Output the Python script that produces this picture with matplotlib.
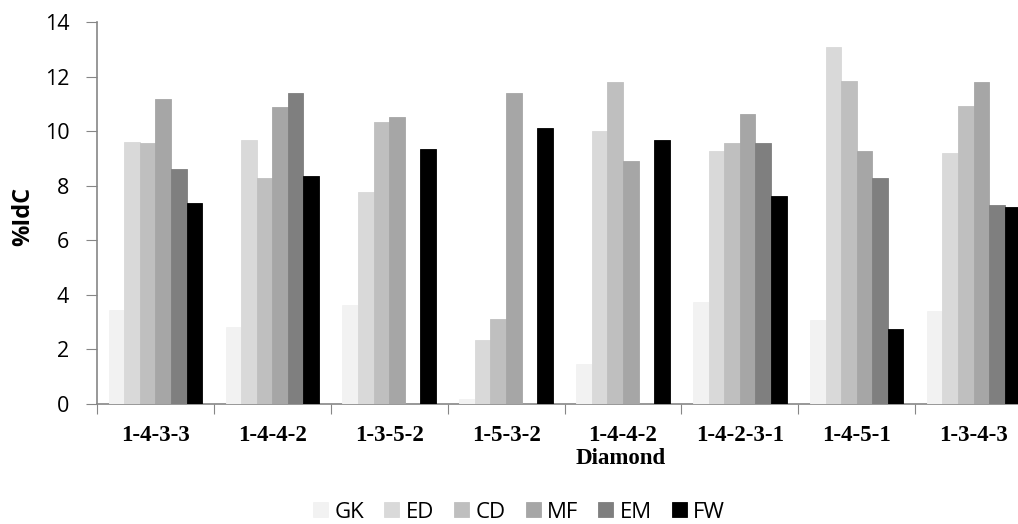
import matplotlib.pyplot as plt
import numpy as np

# data
diamonds = ['1-4-3-3', '1-4-4-2', '1-3-5-2', '1-5-3-2', '1-4-4-2', '1-4-2-3-1', '1-4-5-1', '1-3-4-3']
series = ['GK', 'ED', 'CD', 'MF', 'EM', 'FW']
gk = [3.44, 2.83, 3.64, 0.20, 1.47, 3.74, 3.08, 3.40]
ed = [9.61, 9.68, 7.77, 2.34, 9.99, 9.26, 13.08, 9.19]
cd = [9.57, 8.27, 10.34, 3.13, 11.81, 9.55, 11.82, 10.93]
mf = [11.18, 10.87, 10.52, 11.38, 8.90, 10.62, 9.28, 11.81]
em = [8.63, 11.39, 0.0, 0.0, 0.0, 9.55, 8.27, 7.29]
fw = [7.36, 8.36, 9.34, 10.13, 9.66, 7.63, 2.75, 7.23]
colors = ['#f2f2f2', '#d9d9d9', '#bfbfbf', '#a6a6a6', '#7f7f7f', '#000000']

W, H = 1018, 524
fig = plt.figure(figsize=(W / 100, H / 100), dpi=100)
# axes runs past the right edge, like the cropped original
ax = fig.add_axes([97 / W, 1 - 404 / H, (1032 - 97) / W, (404 - 22) / H])

x = np.arange(len(diamonds))
bw = 0.8 / 6
for k, (vals, name, c) in enumerate(zip([gk, ed, cd, mf, em, fw], series, colors)):
    ec = '#000000' if name == 'FW' else c
    ax.bar(x - 0.4 + bw * (k + 0.5), vals, bw, color=c, edgecolor=ec, linewidth=0.6,
           label=name, zorder=3)

ax.set_xlim(-0.5, len(diamonds) - 0.5)
ax.set_ylim(0, 14)
ax.set_yticks(np.arange(0, 15, 2))
ax.set_xticks(np.arange(-0.5, len(diamonds), 1))
ax.set_xticklabels([])
ax.set_xticks(x, minor=True)
ax.set_xticklabels(diamonds, minor=True, fontfamily='Liberation Serif', fontweight='bold', fontsize=16.5)
ax.tick_params(axis='x', which='minor', length=0, pad=15)
ax.tick_params(axis='x', which='major', length=7, color='#868686', direction='out')
ax.tick_params(axis='y', length=8, color='#868686', direction='out', labelsize=15.5, pad=12)
for lab in ax.get_yticklabels():
    lab.set_fontfamily('Open Sans')

for s in ['top', 'right']:
    ax.spines[s].set_visible(False)
for s in ['left', 'bottom']:
    ax.spines[s].set_color('#868686')
    ax.spines[s].set_linewidth(1.2)

fig.text(621 / W, 1 - 459 / H, 'Diamond', ha='center', va='center',
         fontfamily='Liberation Serif', fontweight='bold', fontsize=16.5)
fig.text(23 / W, 1 - 216 / H, '%IdC', ha='center', va='center', rotation=90,
         fontfamily='Open Sans', fontweight='bold', fontsize=17)

fig.legend(loc='center', bbox_to_anchor=(519 / W, 1 - 512 / H), ncol=6, frameon=False,
           prop={'family': 'Open Sans', 'size': 16}, handlelength=0.68, handleheight=0.68,
           handletextpad=0.28, columnspacing=0.9, borderpad=0, borderaxespad=0)

fig.savefig('out.png', dpi=100)
